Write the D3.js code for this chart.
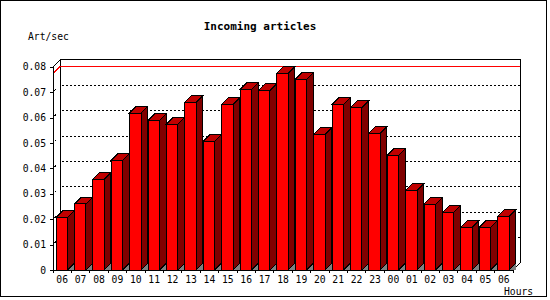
<!DOCTYPE html>
<html>
<head>
<meta charset="utf-8">
<script src="https://cdn.jsdelivr.net/npm/d3@7"></script>
<style>
  body { margin: 0; background: #fff; }
  svg { display: block; shape-rendering: crispEdges; }
  text { font-family: "DejaVu Sans Mono", monospace; font-size: 9.7px; fill: #000; }
</style>
</head>
<body>
<div id="chart"></div>
<script>
// data
const hours = ["06", "07", "08", "09", "10", "11", "12", "13", "14", "15", "16", "17", "18",
               "19", "20", "21", "22", "23", "00", "01", "02", "03", "04", "05", "06"];
const artPerSec = [0.0207, 0.0260, 0.0357, 0.0432, 0.0618, 0.0589, 0.0574, 0.0660, 0.0507,
                   0.0652, 0.0711, 0.0707, 0.0774, 0.0751, 0.0534, 0.0652, 0.0640, 0.0538,
                   0.0452, 0.0314, 0.0259, 0.0227, 0.0168, 0.0168, 0.0211];
const yTicks = [0, 0.01, 0.02, 0.03, 0.04, 0.05, 0.06, 0.07, 0.08];
const yTickLabels = ["0", "0.01", "0.02", "0.03", "0.04", "0.05", "0.06", "0.07", "0.08"];

const W = 550, H = 300;
const depth = 7;      // wall depth
const barDepth = 6.5; // bar depth

const svg = d3.select("#chart").append("svg")
  .attr("width", W)
  .attr("height", H);

// outer frame
svg.append("rect")
  .attr("x", 0.5).attr("y", 0.5)
  .attr("width", 546).attr("height", 296)
  .attr("fill", "#fff").attr("stroke", "#000").attr("stroke-width", 1.5);

const x = d3.scaleBand()
  .domain(d3.range(hours.length))
  .range([53, 513]);

const y = d3.scaleLinear()
  .domain([0, 0.08])
  .range([270, 66.8]);

const x0 = x.range()[0], x1 = x.range()[1];
const yTop = y(0.08), yBot = y(0);

// back wall
svg.append("path")
  .attr("d", `M${x0 + depth},${yBot - depth}V${yTop - depth}H${x1 + depth}V${yBot - depth}`)
  .attr("fill", "none").attr("stroke", "#000");

// dotted gridlines on the back wall
svg.append("g").selectAll("line")
  .data(yTicks.slice(1, -1))
  .join("line")
  .attr("x1", x0 + depth + 2).attr("x2", x1 + depth)
  .attr("y1", d => y(d) - depth).attr("y2", d => y(d) - depth)
  .attr("stroke", "#000").attr("stroke-dasharray", "2,2");

// little marks on the side wall
svg.append("g").selectAll("line")
  .data(yTicks.slice(1, -1))
  .join("line")
  .attr("x1", x0 + 1.5).attr("x2", x0 + 3)
  .attr("y1", d => y(d) - 1.5).attr("y2", d => y(d) - 3)
  .attr("stroke", "#000");

// red max line
const maxVal = d3.max(artPerSec);
svg.append("path")
  .attr("d", `M${x0},${y(maxVal)}L${x0 + depth},${y(maxVal) - depth}H${x1 + depth}`)
  .attr("fill", "none").attr("stroke", "#f00");

// front frame lines
svg.append("path")
  .attr("d", `M${x0},${yTop}L${x0 + depth},${yTop - depth}H${x1 + depth}`)
  .attr("fill", "none").attr("stroke", "#000");
svg.append("path")
  .attr("d", `M${x0},${yBot}H${x1}L${x1 + depth},${yBot - depth}`)
  .attr("fill", "none").attr("stroke", "#000");

// y axis
const yAxis = svg.append("g")
  .attr("transform", `translate(${x0},0)`)
  .call(d3.axisLeft(y)
    .tickValues(yTicks)
    .tickSize(3)
    .tickSizeOuter(0)
    .tickPadding(4)
    .tickFormat((d, i) => yTickLabels[i]));
yAxis.selectAll("path, line").attr("stroke", "#000");
yAxis.selectAll("text").style("font-family", null).style("font-size", null).attr("font-family", null).attr("font-size", null);
yAxis.attr("font-family", null).attr("font-size", null);

// x ticks at slot boundaries
svg.append("g").selectAll("line")
  .data(d3.range(hours.length + 1))
  .join("line")
  .attr("x1", i => i < hours.length ? x(i) : x1)
  .attr("x2", i => i < hours.length ? x(i) : x1)
  .attr("y1", yBot).attr("y2", yBot + 3)
  .attr("stroke", "#000");

// x labels
const xAxis = svg.append("g")
  .attr("transform", `translate(0,${yBot})`)
  .call(d3.axisBottom(x).tickSize(0).tickPadding(6).tickFormat(i => hours[i]));
xAxis.select(".domain").remove();
xAxis.attr("font-family", null).attr("font-size", null);

// bars
const bw = 11.5, off = 3;
const bars = svg.append("g").selectAll("g")
  .data(artPerSec.map((v, i) => ({ i, v })))
  .join("g");

bars.append("path") // floor shadow
  .attr("d", d => {
    const r = x(d.i) + off + bw;
    return `M${r},${yBot}L${r + barDepth},${yBot - barDepth}V${yBot}Z`;
  })
  .attr("fill", "#808080").attr("stroke", "none");

bars.append("path") // side
  .attr("d", d => {
    const r = x(d.i) + off + bw, t = y(d.v);
    return `M${r},${yBot}L${r + barDepth},${yBot - barDepth}V${t - barDepth}L${r},${t}Z`;
  })
  .attr("fill", "#800000").attr("stroke", "#000");

bars.append("path") // top
  .attr("d", d => {
    const l = x(d.i) + off, t = y(d.v);
    return `M${l},${t}L${l + barDepth},${t - barDepth}H${l + bw + barDepth}L${l + bw},${t}Z`;
  })
  .attr("fill", "#c00000").attr("stroke", "#000");

bars.append("rect") // front
  .attr("x", d => x(d.i) + off)
  .attr("y", d => y(d.v))
  .attr("width", bw)
  .attr("height", d => yBot - y(d.v))
  .attr("fill", "#f00").attr("stroke", "#000");

// titles
svg.append("text")
  .attr("x", 260).attr("y", 27)
  .attr("text-anchor", "middle")
  .attr("dominant-baseline", "middle")
  .style("font-size", "11px")
  .style("font-weight", "bold")
  .text("Incoming articles");

svg.append("text")
  .attr("x", 28).attr("y", 37)
  .attr("dominant-baseline", "middle")
  .text("Art/sec");

svg.append("text")
  .attr("x", 504).attr("y", 292)
  .attr("dominant-baseline", "middle")
  .text("Hours");
</script>
</body>
</html>
